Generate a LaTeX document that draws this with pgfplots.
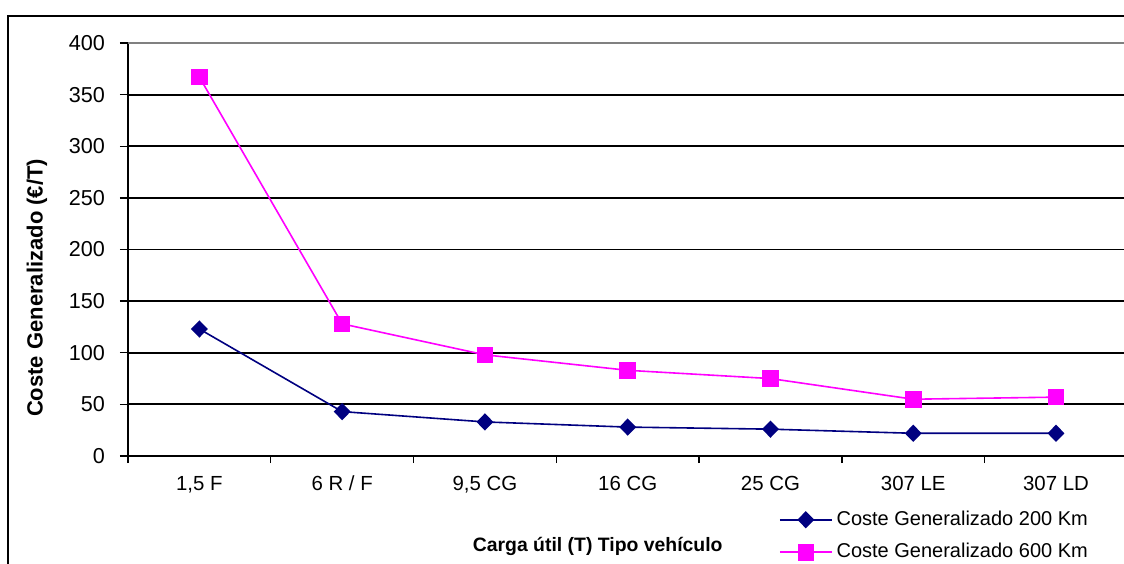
\documentclass[border=0pt]{standalone}
\usepackage{pgfplots}
\pgfplotsset{compat=1.18}
\usepackage{fontspec}
\setmainfont{Liberation Sans}
\definecolor{navyc}{RGB}{0,0,128}
\definecolor{magc}{RGB}{255,0,255}
\begin{document}
\begin{tikzpicture}
\begin{axis}[
  at={(64pt,53.5pt)}, anchor=south west,
  scale only axis, width=499.7pt, height=206.5pt,
  xmin=-0.5, xmax=6.5, ymin=0, ymax=400,
  axis lines*=left,
  axis line style={line width=1.2pt, black},
  xtick={0,...,6},
  xticklabels={{1,5 F},{6 R / F},{9,5 CG},{16 CG},{25 CG},{307 LE},{307 LD}},
  minor xtick={-0.5,0.5,1.5,2.5,3.5,4.5,5.5,6.5},
  major x tick style={draw=none},
  minor tick length=3.5pt,
  ytick={0,50,...,400},
  major tick length=4pt,
  tick align=outside,
  tick style={black, line width=0.7pt},
  ymajorgrids,
  grid style={black, line width=0.9pt},
  xticklabel style={font=\fontsize{10.2pt}{12pt}\selectfont, yshift=-2.5pt},
  yticklabel style={font=\fontsize{10.8pt}{12pt}\selectfont, xshift=-4pt},
  /pgf/number format/assume math mode=true,
  ylabel={\textbf{Coste Generalizado (€/T)}},
  ylabel style={font=\fontsize{11pt}{13pt}\selectfont, at={(axis description cs:-0.091,0.407)}, anchor=center},
  xlabel={\textbf{Carga útil (T) Tipo vehículo}},
  xlabel style={font=\fontsize{9.7pt}{11pt}\selectfont, at={(rel axis cs:0.47,0)}, yshift=-37pt},
  legend style={at={(rel axis cs:0.651,-0.1225)}, anchor=north west, draw=none, fill=none,
    font=\fontsize{10pt}{12pt}\selectfont, row sep=3.5pt, inner sep=0pt,
    /tikz/every even column/.append style={column sep=8pt}},
  legend cell align=left,
  legend image code/.code={\draw[#1] (0pt,0pt) -- (26pt,0pt); \draw[#1, mark repeat=1] plot coordinates {(13pt,0pt)};},
  clip=false,
]
\addplot[navyc, line width=0.8pt, mark=diamond*, mark size=3.75pt, mark options={solid, fill=navyc, xscale=1.3}] coordinates {
(0,123) (1,43) (2,33) (3,28) (4,26) (5,22) (6,22)};
\addlegendentry{Coste Generalizado 200 Km}
\addplot[magc, line width=0.8pt, mark=square*, mark size=3.75pt, mark options={solid, fill=magc}] coordinates {
(0,367) (1,128) (2,98) (3,83) (4,75) (5,55) (6,57)};
\addlegendentry{Coste Generalizado 600 Km}
\draw[gray, line width=1pt] (axis cs:-0.5,400) -- (axis cs:6.5,400);
\end{axis}
\draw[black, line width=0.75pt] (4pt,-20pt) -- (4pt,273.5pt) -- (600pt,273.5pt);
\pgfresetboundingbox
\useasboundingbox (0pt,0pt) rectangle (562pt,281.5pt);
\end{tikzpicture}
\end{document}
